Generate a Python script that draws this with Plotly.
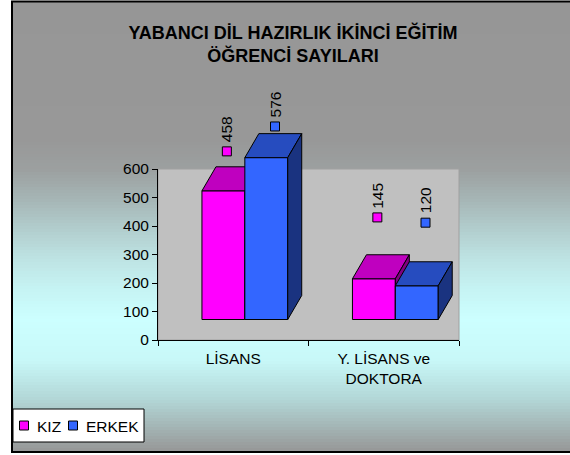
import plotly.graph_objects as go

# ---------------- data ----------------
categories = ["LİSANS", "Y. LİSANS ve<br>DOKTORA"]
series_names = ["KIZ", "ERKEK"]
kiz_values = [458, 145]
erkek_values = [576, 120]
y_tick_values = [0, 100, 200, 300, 400, 500, 600]
title_text = "YABANCI DİL HAZIRLIK İKİNCİ EĞİTİM<br>ÖĞRENCİ SAYILARI"

series_values = [kiz_values, erkek_values]

# ---------------- styles / layout constants ----------------
W, H = 570, 455
PL, PR, PT, PB = 158, 459, 80, 340          # plot area in pixels
WALL_TOP_PX = 169
plot_w = PR - PL
plot_h = PB - PT
FONT = "Liberation Sans, Arial, sans-serif"

front_colors = ["#FF00FF", "#3366FF"]
top_colors = ["#BF00BF", "#264CBF"]
side_colors = ["#800080", "#1A3380"]


def px_to_paper_x(px):
    return (px - PL) / plot_w


def px_to_paper_y(py):
    return (PB - py) / plot_h


X_RANGE = [-0.5, len(categories) - 0.5]
x_per_px = (X_RANGE[1] - X_RANGE[0]) / plot_w

# bars are drawn in a 3-D look: front floor lies above the axis floor
BAR_FLOOR_PX = 319.5
BAR_PX_PER_UNIT = 0.281
y2_range = [-(PB - BAR_FLOOR_PX) / BAR_PX_PER_UNIT, (BAR_FLOOR_PX - PT) / BAR_PX_PER_UNIT]

# label markers scale
MK_ZERO_PX = 248
MK_PX_PER_UNIT = 0.211
y4_range = [-(PB - MK_ZERO_PX) / MK_PX_PER_UNIT, (MK_ZERO_PX - PT) / MK_PX_PER_UNIT]

DEPTH_DX = 14 * x_per_px
DEPTH_DY = 24 / BAR_PX_PER_UNIT
BAR_WIDTH = 0.285
offsets = [-0.208, 0.077]
label_shifts = [0.023, 0.058]

cat_pos = list(range(len(categories)))
axes_for_series = [("x", "y2"), ("x2", "y3")]

fig = go.Figure()

# empty trace so that the value axis (y) gets its own subplot
fig.add_trace(go.Scatter(x=[], y=[], xaxis="x", yaxis="y", showlegend=False, hoverinfo="skip"))

for i, (name, vals) in enumerate(zip(series_names, series_values)):
    xa, ya = axes_for_series[i]
    fig.add_trace(go.Bar(
        x=cat_pos, y=vals, width=BAR_WIDTH, offset=offsets[i],
        marker=dict(color=front_colors[i], line=dict(color="black", width=1)),
        xaxis=xa, yaxis=ya, showlegend=False, hoverinfo="skip", name=name,
    ))
    tx, ty, sx, sy = [], [], [], []
    for j, v in zip(cat_pos, vals):
        xl = j + offsets[i]
        xr = xl + BAR_WIDTH
        tx += [xl, xr, xr + DEPTH_DX, xl + DEPTH_DX, xl, None]
        ty += [v, v, v + DEPTH_DY, v + DEPTH_DY, v, None]
        sx += [xr, xr, xr + DEPTH_DX, xr + DEPTH_DX, xr, None]
        sy += [0, v, v + DEPTH_DY, DEPTH_DY, 0, None]
    fig.add_trace(go.Scatter(
        x=tx, y=ty, mode="lines", fill="toself", fillcolor=top_colors[i],
        line=dict(color="black", width=1), xaxis=xa, yaxis=ya,
        showlegend=False, hoverinfo="skip"))
    fig.add_trace(go.Scatter(
        x=sx, y=sy, mode="lines", fill="toself", fillcolor=side_colors[i],
        line=dict(color="black", width=1), xaxis=xa, yaxis=ya,
        showlegend=False, hoverinfo="skip"))

annotations = []
for i, (name, vals) in enumerate(zip(series_names, series_values)):
    mx = [j + offsets[i] + BAR_WIDTH / 2 + label_shifts[i] for j in cat_pos]
    fig.add_trace(go.Scatter(
        x=mx, y=vals, mode="markers", name=name,
        marker=dict(symbol="square", size=9, color=front_colors[i],
                    line=dict(color="black", width=1)),
        xaxis="x2", yaxis="y4", cliponaxis=False, hoverinfo="skip", showlegend=False))
    for x, v in zip(mx, vals):
        annotations.append(dict(
            x=x, y=v, xref="x2", yref="y4", text=str(v), textangle=-90,
            showarrow=False, yanchor="bottom", xanchor="center", yshift=7,
            font=dict(family=FONT, size=15.5, color="black")))

# ---------------- background shapes ----------------
stops = [(0, (150, 150, 150)), (140, (152, 152, 152)), (170, (156, 160, 160)),
         (200, (166, 182, 182)), (230, (178, 206, 206)), (260, (190, 228, 228)),
         (290, (198, 244, 244)), (320, (204, 255, 255)), (360, (200, 248, 248)),
         (400, (178, 214, 214)), (452, (150, 150, 150))]


def grad_color(py):
    for (y0, c0), (y1, c1) in zip(stops[:-1], stops[1:]):
        if y0 <= py <= y1:
            t = (py - y0) / (y1 - y0)
            c = [round(a + (b - a) * t) for a, b in zip(c0, c1)]
            return "rgb(%d,%d,%d)" % tuple(c)
    return "rgb(150,150,150)"


shapes = []
STRIP = 3
py = 1
while py < 453:
    shapes.append(dict(type="rect", xref="paper", yref="paper",
                       x0=px_to_paper_x(12), x1=px_to_paper_x(W + 5),
                       y0=px_to_paper_y(py), y1=px_to_paper_y(min(py + STRIP + 0.5, 453)),
                       fillcolor=grad_color(py + STRIP / 2), line=dict(width=0), layer="below"))
    py += STRIP

# wall
shapes.append(dict(type="rect", xref="x domain", yref="y domain", x0=0, x1=1, y0=0, y1=1,
                   fillcolor="#C0C0C0", line=dict(color="#A0A0A0", width=1), layer="below"))
# chart frame
shapes.append(dict(type="rect", xref="paper", yref="paper",
                   x0=px_to_paper_x(12), x1=px_to_paper_x(W + 5),
                   y0=px_to_paper_y(1.5), y1=px_to_paper_y(452),
                   fillcolor="rgba(0,0,0,0)", line=dict(color="black", width=2), layer="below"))

# legend box (drawn by hand to match the original compact key)
LEG_BOX = (13, 409, 144, 442)
shapes.append(dict(type="rect", xref="paper", yref="paper",
                   x0=px_to_paper_x(LEG_BOX[0]), x1=px_to_paper_x(LEG_BOX[2]),
                   y0=px_to_paper_y(LEG_BOX[1]), y1=px_to_paper_y(LEG_BOX[3]),
                   fillcolor="white", line=dict(color="black", width=1), layer="above"))
leg_sym_x = [24, 73]
leg_txt_x = [35, 84]
LEG_CY = 425.5
for i, name in enumerate(series_names):
    shapes.append(dict(type="rect", xref="paper", yref="paper",
                       x0=px_to_paper_x(leg_sym_x[i] - 4.5), x1=px_to_paper_x(leg_sym_x[i] + 4.5),
                       y0=px_to_paper_y(LEG_CY - 4.5), y1=px_to_paper_y(LEG_CY + 4.5),
                       fillcolor=front_colors[i], line=dict(color="black", width=1), layer="above"))
    annotations.append(dict(x=px_to_paper_x(leg_txt_x[i]), y=px_to_paper_y(LEG_CY + 1),
                            xref="paper", yref="paper", text=name, showarrow=False,
                            xanchor="left", yanchor="middle",
                            font=dict(family=FONT, size=15.5, color="black")))

tickfont = dict(family=FONT, size=15.5, color="black")

fig.update_layout(
    width=W, height=H,
    margin=dict(l=PL, r=W - PR, t=PT, b=H - PB, pad=0),
    paper_bgcolor="white", plot_bgcolor="rgba(0,0,0,0)",
    barmode="overlay", showlegend=False,
    title=dict(text=title_text, x=293 / W, xref="container", xanchor="center",
               y=1 - 39 / H, yref="container", yanchor="middle",
               font=dict(family=FONT, size=18, color="black", weight="bold")),
    xaxis=dict(range=X_RANGE, tickvals=cat_pos, ticktext=categories, ticks="",
               showline=True, linecolor="black", linewidth=1, showgrid=False,
               zeroline=False, anchor="y", tickfont=tickfont, ticklabelstandoff=4,
               minor=dict(tickvals=[-0.5, 0.5, 1.5], ticks="outside", ticklen=5,
                          tickcolor="black", tickwidth=1, showgrid=False)),
    xaxis2=dict(range=X_RANGE, overlaying="x", visible=False),
    yaxis=dict(range=[0, 600], domain=[0, (PB - WALL_TOP_PX) / plot_h], tickvals=y_tick_values,
               ticks="outside", ticklen=5, tickcolor="black", showline=True,
               linecolor="black", linewidth=1, showgrid=False, zeroline=False,
               anchor="x", tickfont=tickfont),
    yaxis2=dict(range=y2_range, domain=[0, 1], anchor="x", visible=False),
    yaxis3=dict(range=y2_range, overlaying="y2", visible=False),
    yaxis4=dict(range=y4_range, overlaying="y2", visible=False),
    shapes=shapes, annotations=annotations,
)

fig.write_html("out.html", config={"displayModeBar": False},
               post_script="document.body.style.margin='0';")
